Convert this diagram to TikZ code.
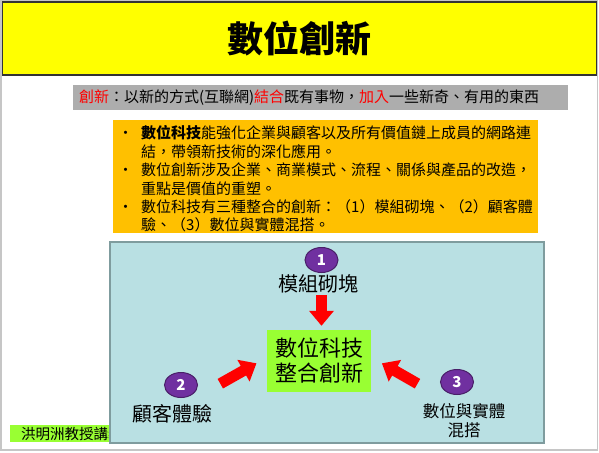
\documentclass[tikz,border=0pt]{standalone}
\usepackage{fontspec}
\setmainfont{Noto Sans CJK TC}
\usetikzlibrary{shapes.geometric, arrows.meta, calc}

\definecolor{titleyellow}{HTML}{FFFF00}
\definecolor{defgray}{HTML}{ADADAD}
\definecolor{factorange}{HTML}{FFC000}
\definecolor{stageteal}{HTML}{B9E0E3}
\definecolor{stageline}{HTML}{7F9C9E}
\definecolor{corelime}{HTML}{99FF33}
\definecolor{numpurple}{HTML}{7030A0}
\definecolor{arrowred}{HTML}{FF0000}

\begin{document}
\begin{tikzpicture}[
          x=1pt, y=-1pt,
          boxnode/.style={rectangle, inner sep=0pt, align=center},
          numnode/.style={ellipse, draw=numpurple!65!black, fill=numpurple, line width=1pt, minimum width=33pt, minimum height=25pt, inner sep=0pt, text=white, font=\fontsize{15}{15}\selectfont\bfseries},
          labnode/.style={inner sep=0pt, align=center},
          push/.style={arrowred, line width=11pt, -{Triangle[width=24pt, length=15pt]}}
        ]
        \useasboundingbox (0,0) rectangle (599,452);

        % ----------------------------------------------------
        % KHUNG TRANG & TIÊU ĐỀ
        % ----------------------------------------------------
        \draw[gray!45, line width=1.5pt] (1,1) rectangle (597.5,450);
        \node (title) at (299.5, 38.5) [boxnode, draw=black!80, fill=titleyellow, line width=1.2pt, minimum width=594pt, minimum height=73pt, font=\fontsize{36}{36}\selectfont\bfseries] {數位創新};

        \node (defbar) at (320.5, 97.5) [boxnode, fill=defgray, minimum width=495pt, minimum height=25pt, text width=483pt, inner xsep=6pt, align=left, font=\fontsize{15}{15}\selectfont] {{\color{arrowred}創新}：以新的方式(互聯網){\color{arrowred}結合}既有事物，{\color{arrowred}加入}一些新奇、有用的東西};

        % ----------------------------------------------------
        % KHỐI GẠCH ĐẦU DÒNG
        % ----------------------------------------------------
        \node (facts) at (325, 176) [boxnode, fill=factorange, minimum width=425pt, minimum height=113pt] {};
        \node (factstext) at (118, 181) [labnode, anchor=west, font=\fontsize{15}{18.4}\selectfont] {%
          \begin{tabular}{@{}p{23pt}@{}l@{}}
            \textbullet & \textbf{數位科技}能強化企業與顧客以及所有價值鏈上成員的網路連\\
                        & 結，帶領新技術的深化應用。\\
            \textbullet & 數位創新涉及企業、商業模式、流程、關係與產品的改造，\\
                        & 重點是價值的重塑。\\
            \textbullet & 數位科技有三種整合的創新：（1）模組砌塊、（2）顧客體\\
                        & 驗、（3）數位與實體混搭。
          \end{tabular}};

        % ----------------------------------------------------
        % CHÂN TRANG & SƠ ĐỒ
        % ----------------------------------------------------
        \node (credit) at (10, 433.5) [boxnode, anchor=west, fill=corelime, minimum height=17pt, inner xsep=11pt, font=\fontsize{14.5}{14.5}\selectfont] {洪明洲教授講義};

        \node (stage) at (327, 342.5) [boxnode, draw=stageline, fill=stageteal, line width=2pt, minimum width=434pt, minimum height=201pt] {};

        \node (core) at (319, 361) [boxnode, fill=corelime, minimum width=104pt, minimum height=62pt, font=\fontsize{22}{25}\selectfont] {數位科技\\整合創新};

        \node (numA) at (321.5, 260) [numnode] {1};
        \node (labA) at (318, 284) [labnode, font=\fontsize{20}{20}\selectfont] {模組砌塊};
        \node (numB) at (181, 385) [numnode] {2};
        \node (labB) at (172, 414) [labnode, font=\fontsize{20}{20}\selectfont] {顧客體驗};
        \node (numC) at (457, 382) [numnode] {3};
        \node (labC) at (464, 420.5) [labnode, font=\fontsize{16.5}{19}\selectfont] {數位與實體\\混搭};

        % ----------------------------------------------------
        % MŨI TÊN
        % ----------------------------------------------------
        \coordinate (tailA) at (321.5, 295);
        \coordinate (tailB) at (220.3, 383.7);
        \coordinate (tailC) at (417.5, 383.7);
        \draw[push] (tailA) -- ($(core.north)+(2.5,-4)$);
        \draw[push] (tailB) -- ($(core.west)+(-10.3,2.3)$);
        \draw[push] (tailC) -- ($(core.east)+(10.7,2.3)$);
      \end{tikzpicture}
\end{document}
